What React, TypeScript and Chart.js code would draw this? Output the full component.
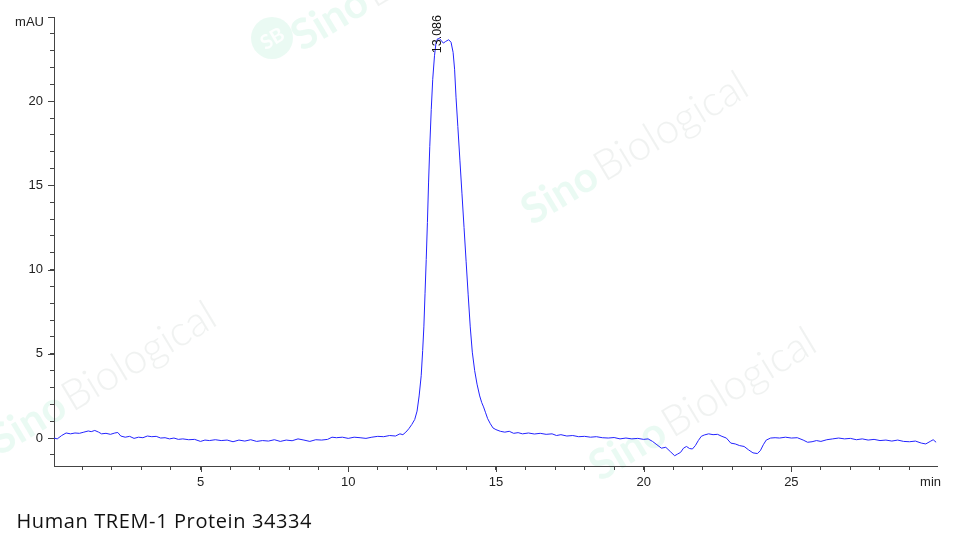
import React, { useEffect, useRef } from "react";
import { Chart, registerables } from "chart.js";

Chart.register(...registerables);

const times: number[] = [
  0.04, 0.15, 0.3, 0.45, 0.6, 0.75, 0.9, 1.05, 1.2, 1.3, 1.42, 1.55, 1.65, 1.8, 1.95, 2.1, 2.2, 2.3, 2.45, 2.6,
  2.75, 2.9, 3.05, 3.2, 3.35, 3.5, 3.65, 3.8, 3.95, 4.1, 4.25, 4.4, 4.6, 4.8, 5.0, 5.15, 5.3, 5.5, 5.7, 5.9,
  6.1, 6.3, 6.5, 6.7, 6.9, 7.1, 7.3, 7.5, 7.7, 7.9, 8.1, 8.3, 8.5, 8.7, 8.9, 9.1, 9.3, 9.45, 9.6, 9.8,
  10.0, 10.2, 10.4, 10.6, 10.8, 11.0, 11.2, 11.4, 11.6, 11.75, 11.85, 11.95, 12.05, 12.15, 12.25, 12.33, 12.4, 12.47, 12.52, 12.56,
  12.6, 12.64, 12.68, 12.72, 12.76, 12.81, 12.86, 12.92, 12.97, 13.02, 13.086, 13.15, 13.22, 13.3, 13.4, 13.48, 13.55, 13.6, 13.65, 13.71,
  13.78, 13.85, 13.92, 13.99, 14.06, 14.13, 14.2, 14.28, 14.36, 14.45, 14.52, 14.58, 14.65, 14.72, 14.81, 14.9, 15.0, 15.15, 15.3, 15.45,
  15.6, 15.75, 15.9, 16.1, 16.3, 16.5, 16.7, 16.9, 17.05, 17.2, 17.4, 17.6, 17.8, 18.0, 18.2, 18.4, 18.6, 18.8, 19.0, 19.2,
  19.4, 19.6, 19.8, 20.0, 20.15, 20.3, 20.45, 20.6, 20.75, 20.9, 21.05, 21.15, 21.25, 21.35, 21.45, 21.55, 21.65, 21.75, 21.85, 21.95,
  22.05, 22.2, 22.35, 22.5, 22.65, 22.8, 22.95, 23.1, 23.25, 23.4, 23.55, 23.7, 23.85, 23.95, 24.05, 24.15, 24.3, 24.45, 24.6, 24.8,
  25.0, 25.2, 25.4, 25.55, 25.7, 25.85, 26.0, 26.2, 26.4, 26.6, 26.8, 27.0, 27.2, 27.4, 27.6, 27.8, 28.0, 28.2, 28.4, 28.6,
  28.8, 29.0, 29.2, 29.4, 29.55, 29.7, 29.8, 29.9,
];

const mau: number[] = [
  0.0, -0.05, 0.15, 0.3, 0.25, 0.3, 0.28, 0.35, 0.42, 0.38, 0.45, 0.35, 0.25, 0.28, 0.22, 0.3, 0.33, 0.12, 0.05, 0.1,
  -0.02, 0.05, 0.02, 0.12, 0.08, 0.1, 0.0, 0.02, -0.05, 0.0, -0.08, -0.05, -0.1, -0.08, -0.2, -0.12, -0.15, -0.1, -0.15, -0.12,
  -0.22, -0.12, -0.18, -0.1, -0.2, -0.15, -0.18, -0.1, -0.2, -0.12, -0.16, -0.05, -0.12, -0.2, -0.1, -0.12, -0.08, 0.05, 0.02, 0.05,
  -0.02, 0.05, 0.02, -0.02, 0.05, 0.1, 0.08, 0.15, 0.12, 0.25, 0.2, 0.35, 0.55, 0.8, 1.1, 1.6, 2.5, 3.7, 5.2, 6.6,
  8.6, 10.6, 12.8, 15.2, 17.3, 19.5, 21.3, 22.7, 23.45, 23.7, 23.72, 23.6, 23.45, 23.55, 23.65, 23.5, 22.9, 21.9, 20.2, 18.5,
  16.5, 14.5, 12.5, 10.5, 8.5, 6.6, 5.1, 4.0, 3.2, 2.5, 2.1, 1.85, 1.5, 1.15, 0.85, 0.6, 0.5, 0.4, 0.35, 0.4,
  0.28, 0.32, 0.25, 0.3, 0.24, 0.28, 0.22, 0.25, 0.15, 0.2, 0.12, 0.15, 0.08, 0.1, 0.05, 0.08, 0.02, 0.0, 0.03, -0.05,
  0.0, -0.05, -0.02, -0.08, -0.05, -0.2, -0.4, -0.6, -0.55, -0.8, -1.05, -0.95, -0.85, -0.6, -0.5, -0.62, -0.65, -0.45, -0.15, 0.1,
  0.18, 0.25, 0.2, 0.22, 0.1, 0.0, -0.3, -0.35, -0.45, -0.5, -0.7, -0.88, -0.92, -0.75, -0.4, -0.12, 0.0, 0.02, 0.0, 0.05,
  0.0, 0.02, -0.12, -0.25, -0.22, -0.15, -0.2, -0.1, -0.05, 0.0, -0.05, -0.02, -0.1, -0.05, -0.12, -0.08, -0.15, -0.12, -0.18, -0.12,
  -0.2, -0.22, -0.18, -0.3, -0.35, -0.2, -0.1, -0.25,
];

const peakTime = 13.086;
const peakValue = 23.68;
const peakLabel = "13.086";
const xUnit = "min";
const yUnit = "mAU";
const title = "Human TREM-1 Protein 34334";
const watermarkA = "Sino";
const watermarkB = "Biological";

const TICK_FONT = "'Liberation Sans', Arial, sans-serif";

export default function App() {
  const ref = useRef<HTMLCanvasElement | null>(null);

  useEffect(() => {
    if (!ref.current) return;

    const drawWatermark = (ctx: CanvasRenderingContext2D, x: number, y: number, size: number) => {
      ctx.save();
      ctx.translate(x, y);
      ctx.rotate((-31 * Math.PI) / 180);
      ctx.textBaseline = "alphabetic";
      ctx.textAlign = "left";
      ctx.font = `bold ${size}px Lato, sans-serif`;
      ctx.fillStyle = "rgba(205,242,226,0.42)";
      ctx.fillText(watermarkA, 0, 0);
      const w = ctx.measureText(watermarkA).width;
      ctx.font = `300 ${size}px Lato, sans-serif`;
      ctx.fillStyle = "rgba(222,226,224,0.45)";
      ctx.fillText(watermarkB, w + 3, 0);
      ctx.restore();
    };

    const extras = {
      id: "extras",
      beforeDraw(chart: any) {
        const ctx = chart.ctx as CanvasRenderingContext2D;
        ctx.save();
        drawWatermark(ctx, 532, 226, 42);
        drawWatermark(ctx, 0, 456, 42);
        drawWatermark(ctx, 600, 482, 42);
        ctx.fillStyle = "rgba(205,242,226,0.42)";
        ctx.beginPath();
        ctx.arc(272, 38, 21, 0, Math.PI * 2);
        ctx.fill();
        ctx.save();
        ctx.translate(272, 38);
        ctx.rotate((-31 * Math.PI) / 180);
        ctx.fillStyle = "rgba(255,255,255,0.9)";
        ctx.font = "bold 20px Lato, sans-serif";
        ctx.textAlign = "center";
        ctx.textBaseline = "middle";
        ctx.fillText("SB", 0, 1);
        ctx.restore();
        drawWatermark(ctx, 302, 52, 42);
        ctx.restore();
      },
      afterDraw(chart: any) {
        const ctx = chart.ctx as CanvasRenderingContext2D;
        const xs = chart.scales.x;
        const ys = chart.scales.y;
        const area = chart.chartArea;
        ctx.save();
        ctx.strokeStyle = "#444";
        ctx.lineWidth = 1;
        ys.ticks.forEach((t: any) => {
          if (Math.round(t.value) % 5 === 0) {
            const py = Math.round(ys.getPixelForValue(t.value)) + 0.5;
            ctx.beginPath();
            ctx.moveTo(area.left - 6, py);
            ctx.lineTo(area.left, py);
            ctx.stroke();
          }
        });
        xs.ticks.forEach((t: any) => {
          if (Math.round(t.value) % 5 === 0) {
            const px = Math.round(xs.getPixelForValue(t.value)) + 0.5;
            ctx.beginPath();
            ctx.moveTo(px, area.bottom);
            ctx.lineTo(px, area.bottom + 6);
            ctx.stroke();
          }
        });
        ctx.fillStyle = "#222";
        ctx.font = `13px ${TICK_FONT}`;
        ctx.textBaseline = "middle";
        ctx.textAlign = "right";
        ctx.fillText(yUnit, area.left - 10, area.top + 5);
        ctx.fillText(xUnit, area.right + 4, area.bottom + 16);
        const px = xs.getPixelForValue(peakTime);
        const py = ys.getPixelForValue(peakValue);
        ctx.save();
        ctx.translate(px - 1.5, py + 14);
        ctx.rotate(-Math.PI / 2);
        ctx.textAlign = "left";
        ctx.textBaseline = "middle";
        ctx.font = `12.5px ${TICK_FONT}`;
        ctx.fillStyle = "#111";
        ctx.fillText(peakLabel, 0, 0);
        ctx.restore();
        // title
        ctx.font = "20px 'Open Sans', sans-serif";
        ctx.fillStyle = "#111";
        ctx.textAlign = "left";
        ctx.textBaseline = "alphabetic";
        const target = 295;
        const w = ctx.measureText(title).width;
        const c: any = ctx;
        const extra = Math.max(0, (target - w) / (title.length - 1));
        if ("letterSpacing" in c) {
          c.letterSpacing = `${extra}px`;
          ctx.fillText(title, 16.5, 528.3);
          c.letterSpacing = "0px";
        } else {
          ctx.fillText(title, 16.5, 528.3);
        }
        ctx.restore();
      },
    };

    const chart = new Chart(ref.current, {
      type: "line",
      data: {
        datasets: [
          {
            data: times.map((t, i) => ({ x: t, y: mau[i] })),
            borderColor: "#2323ff",
            borderWidth: 1,
            pointRadius: 0,
            tension: 0,
            fill: false,
          },
        ],
      },
      options: {
        animation: false,
        responsive: false,
        maintainAspectRatio: false,
        layout: { padding: { left: 16, right: 23, top: 17, bottom: 0 } },
        plugins: {
          legend: { display: false },
          tooltip: { enabled: false },
          title: { display: false },
        },
        scales: {
          x: {
            type: "linear",
            min: 0.04,
            max: 29.93,
            afterFit: (s: any) => {
              s.height = 79;
              s.paddingLeft = 0;
              s.paddingRight = 0;
            },
            border: { display: true, color: "#444", width: 1 },
            grid: { drawOnChartArea: false, drawTicks: true, tickLength: 4, tickColor: "#444" },
            ticks: {
              stepSize: 1,
              includeBounds: false,
              autoSkip: false,
              maxRotation: 0,
              padding: 5,
              color: "#222",
              font: { family: TICK_FONT, size: 13 },
              callback: (v: any) => (Math.round(v) % 5 === 0 ? String(Math.round(v)) : ""),
            },
          },
          y: {
            type: "linear",
            min: -1.66,
            max: 25,
            afterFit: (s: any) => {
              s.width = 38;
              s.paddingTop = 0;
              s.paddingBottom = 0;
            },
            border: { display: true, color: "#444", width: 1 },
            grid: { drawOnChartArea: false, drawTicks: true, tickLength: 4, tickColor: "#444" },
            ticks: {
              stepSize: 1,
              includeBounds: false,
              autoSkip: false,
              padding: 7,
              color: "#222",
              font: { family: TICK_FONT, size: 13 },
              callback: (v: any) => {
                const r = Math.round(v);
                return r % 5 === 0 && r !== 25 ? String(r) : "";
              },
            },
          },
        },
      },
      plugins: [extras],
    });

    return () => chart.destroy();
  }, []);

  return (
    <div style={{ position: "absolute", left: 0, top: 0, width: 960, height: 545, background: "#fff" }}>
      <canvas ref={ref} width={960} height={545} style={{ width: 960, height: 545, display: "block" }} />
    </div>
  );
}
